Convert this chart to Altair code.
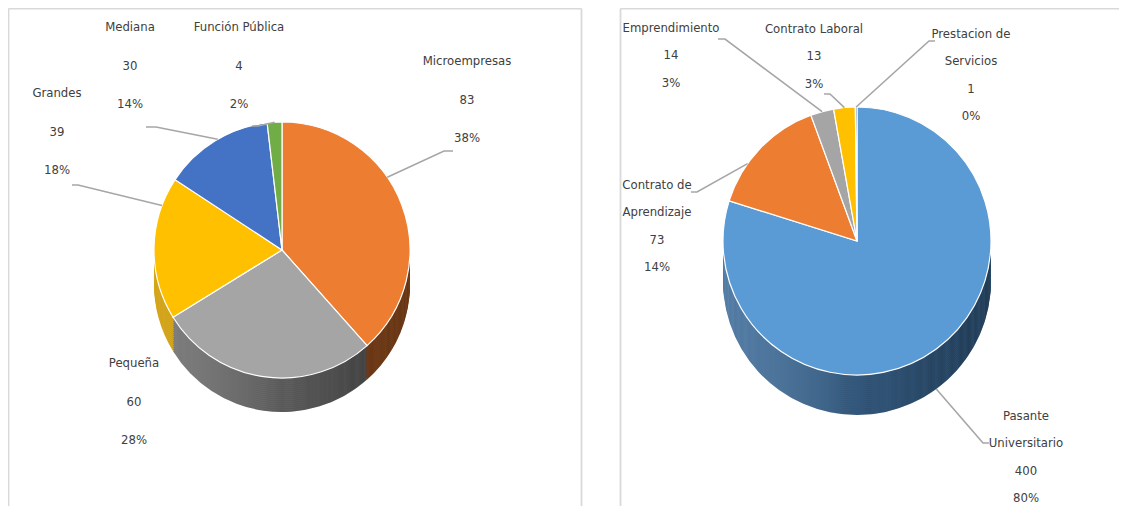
import math
import altair as alt
import pandas as pd

# ---------------- data ----------------
emp_cats = ["Microempresas", "Pequeña", "Grandes", "Mediana", "Función Pública"]
emp_vals = [83, 60, 39, 30, 4]
emp_pcts = ["38%", "28%", "18%", "14%", "2%"]

mod_cats = ["Pasante Universitario", "Contrato de Aprendizaje", "Emprendimiento",
            "Contrato Laboral", "Prestacion de Servicios"]
mod_vals = [400, 73, 14, 13, 1]
mod_pcts = ["80%", "14%", "3%", "3%", "0%"]

# ---------------- styles ----------------
emp_colors = ["#ED7D31", "#A5A5A5", "#FFC000", "#4472C4", "#70AD47"]
emp_side = ["#A55823", "#707070", "#D09C00", "#2F5597", "#4E7A32"]
mod_colors = ["#5B9BD5", "#ED7D31", "#A5A5A5", "#FFC000", "#4472C4"]
mod_side = ["#3F6D9A", "#A55823", "#707070", "#D09C00", "#2F5597"]

FONT = "Liberation Sans Narrow, DejaVu Sans Condensed, Roboto Condensed, Roboto, sans-serif"
TXT = "#404040"
LEAD = "#A6A6A6"
ORG = 8  # page margin -> plot origin

wrap = {"Prestacion de Servicios": "Prestacion de\nServicios",
        "Contrato de Aprendizaje": "Contrato de\nAprendizaje",
        "Pasante Universitario": "Pasante\nUniversitario"}

# layout (page coordinates; y = centre of first text line)
LEFT = dict(cx=282, cy=250, r=128, depth=34, lh=38.5,
            labels={"Microempresas": (467, 61), "Pequeña": (134, 363),
                    "Grandes": (57, 93), "Mediana": (130, 27),
                    "Función Pública": (239, 27)},
            leaders={"Microempresas": ((453, 151), (444, 151), 0.4, False),
                     "Grandes": ((72, 185), (78, 185), 0.8, False),
                     "Mediana": ((146, 127), (156, 127), 0.53, False),
                     "Función Pública": ((252, 126), (258, 126), 0.5, False)})
RIGHT = dict(cx=857, cy=241, r=134, depth=40, lh=27.3,
             labels={"Emprendimiento": (671, 28), "Contrato Laboral": (814, 29),
                     "Prestacion de Servicios": (971, 34),
                     "Contrato de Aprendizaje": (657, 185),
                     "Pasante Universitario": (1026, 416)},
             leaders={"Emprendimiento": ((718, 39), (725, 39), 0.5, False),
                      "Contrato Laboral": ((824, 94), (830, 94), 0.5, False),
                      "Prestacion de Servicios": ((935, 41), (929, 41), 0.5, False),
                      "Contrato de Aprendizaje": ((691, 192), (697, 192), 0.34, False),
                      "Pasante Universitario": ((989, 443), (983, 443), 0.5, True)})


def pie_df(cats, vals, pcts, colors, side):
    return pd.DataFrame({
        "idx": list(range(len(cats))), "cat": cats, "val": vals,
        "col": colors, "side": side,
        "label": [f"{wrap.get(c, c)}\n{v}\n{p}" for c, v, p in zip(cats, vals, pcts)],
    })


def pie_layers(df, L):
    cx, cy, r, depth = L["cx"] - ORG, L["cy"] - ORG, L["r"], L["depth"]
    layers = []
    grad = {"gradient": "linear", "x1": 0, "x2": 1, "y1": 0, "y2": 0,
            "stops": [{"offset": 0, "color": "rgba(255,255,255,0.12)"},
                      {"offset": 0.5, "color": "rgba(0,0,0,0.2)"},
                      {"offset": 1, "color": "rgba(0,0,0,0.45)"}]}
    one = pd.DataFrame({"k": [0]})
    for d in range(depth, 0, -2):
        layers.append(alt.Chart(df).mark_arc(radius=r, strokeWidth=0).encode(
            theta=alt.Theta("val:Q", stack=True),
            order=alt.Order("idx:Q"),
            color=alt.Color("side:N", scale=None),
            x=alt.value(cx), y=alt.value(cy + d)))
        layers.append(alt.Chart(one).mark_arc(
            radius=r, theta=0, theta2=2 * math.pi, fill=grad, strokeWidth=0
        ).encode(x=alt.value(cx), y=alt.value(cy + d)))
    layers.append(alt.Chart(df).mark_arc(radius=r, stroke="white", strokeWidth=1.2).encode(
        theta=alt.Theta("val:Q", stack=True),
        order=alt.Order("idx:Q"),
        color=alt.Color("col:N", scale=None),
        x=alt.value(cx), y=alt.value(cy)))
    return layers


def leader_df(df, L):
    vals = list(df["val"])
    tot = sum(vals)
    rows = []
    for cat, (p0, p1, t, bottom) in L["leaders"].items():
        i = list(df["cat"]).index(cat)
        start = sum(vals[:i]) / tot
        th = 2 * math.pi * (start + t * vals[i] / tot)
        ax = L["cx"] + L["r"] * math.sin(th)
        ay = L["cy"] - L["r"] * math.cos(th) + (L["depth"] if bottom else 0)
        for k, (x, y) in enumerate([p0, p1, (ax, ay)]):
            rows.append({"lid": cat, "k": k, "x": x - ORG, "y": y - ORG})
    return pd.DataFrame(rows)


def label_df(df, L):
    rows = []
    for _, row in df.iterrows():
        x, y = L["labels"][row["cat"]]
        rows.append({"label": row["label"], "x": x - ORG, "y": y - ORG})
    return pd.DataFrame(rows)


emp = pie_df(emp_cats, emp_vals, emp_pcts, emp_colors, emp_side)
mod = pie_df(mod_cats, mod_vals, mod_pcts, mod_colors, mod_side)

# panel borders (plot coordinates)
borders = pd.DataFrame({
    "x": [0.5, 0.5, 573.5, 612.5, 612.5], "x2": [0.5, 573.5, 573.5, 612.5, 1111],
    "y": [0.5, 0.5, 0.5, 0.5, 0.5], "y2": [498, 0.5, 498, 498, 0.5]})
border_layer = alt.Chart(borders).mark_rule(color="#D9D9D9", strokeWidth=1.8).encode(
    x=alt.X("x:Q", scale=None), x2="x2:Q", y=alt.Y("y:Q", scale=None), y2="y2:Q")

layers = [border_layer]
layers += pie_layers(emp, LEFT)
layers += pie_layers(mod, RIGHT)

for df, L in [(emp, LEFT), (mod, RIGHT)]:
    layers.append(alt.Chart(leader_df(df, L)).mark_line(color=LEAD, strokeWidth=1.6).encode(
        x=alt.X("x:Q", scale=None), y=alt.Y("y:Q", scale=None),
        detail="lid:N", order="k:Q"))
    layers.append(alt.Chart(label_df(df, L)).mark_text(
        font=FONT, fontSize=13, color=TXT, lineBreak="\n", lineHeight=L["lh"],
        align="center", baseline="middle").encode(
        x=alt.X("x:Q", scale=None), y=alt.Y("y:Q", scale=None), text="label:N"))

chart = alt.layer(*layers).resolve_scale(theta="independent").properties(
    width=1111, height=498, padding=0,
    autosize=alt.AutoSizeParams(type="none"),
    background="white",
).configure_view(stroke=None)

chart.save("out.html", embed_options={"renderer": "svg", "actions": False})
